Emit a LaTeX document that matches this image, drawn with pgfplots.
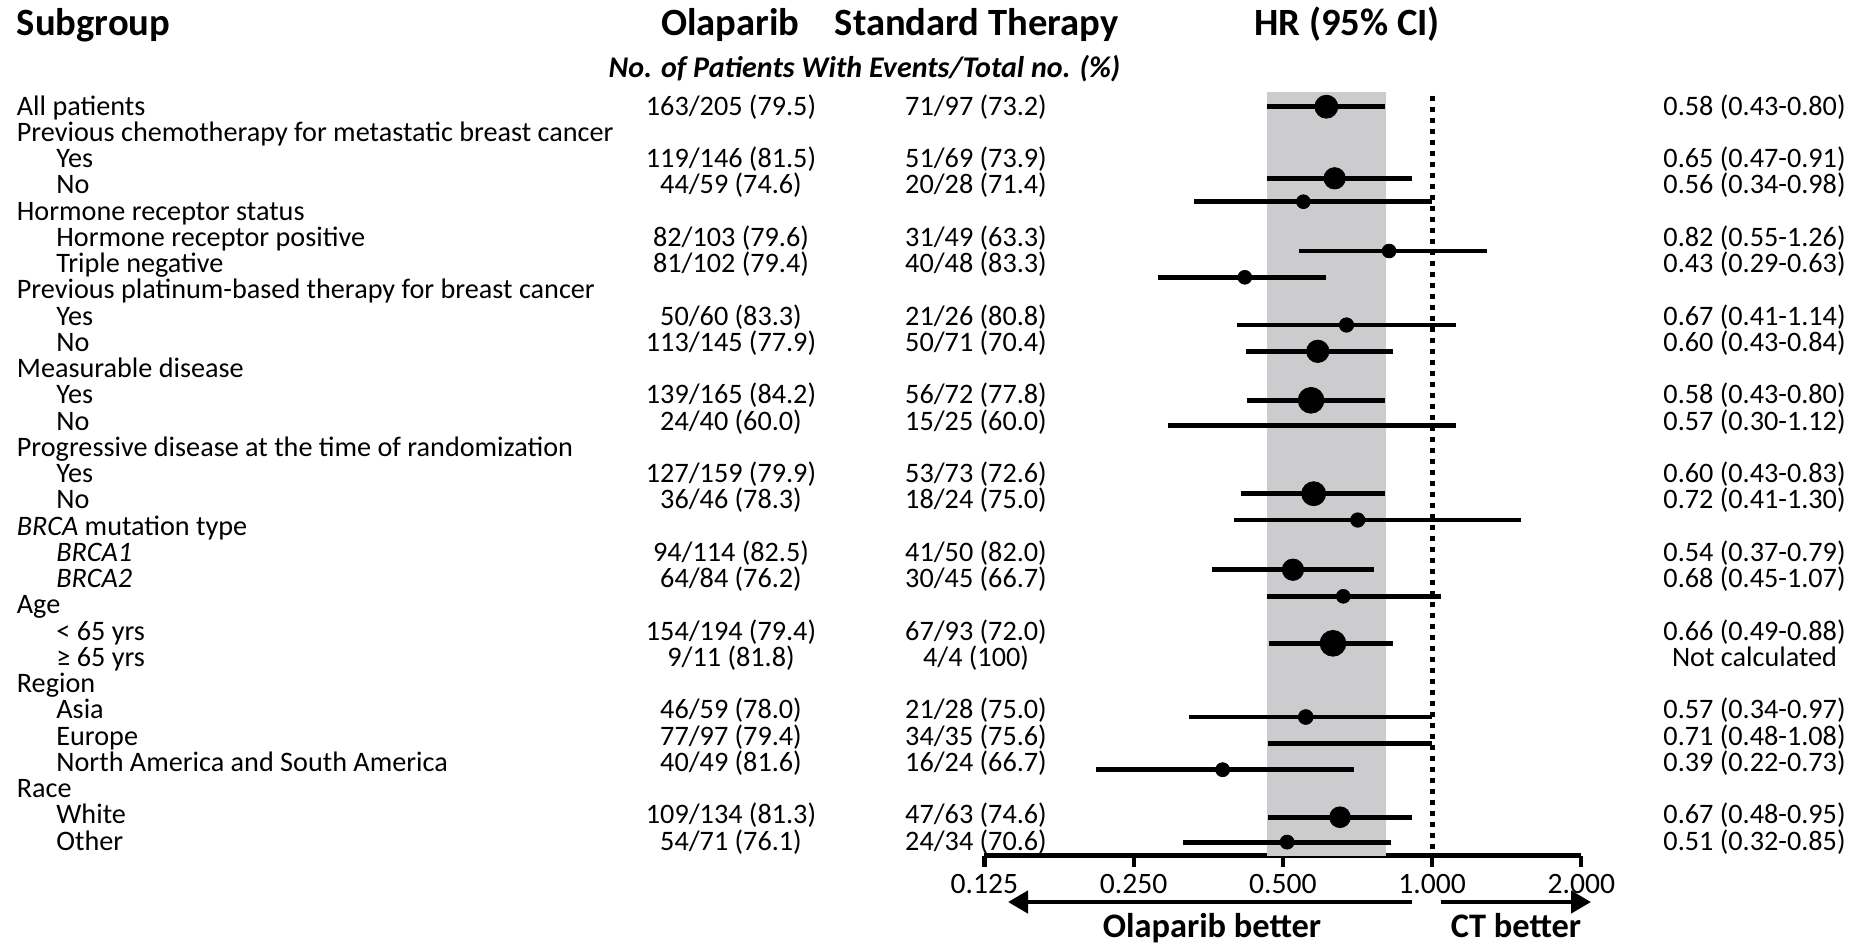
\documentclass[border=0pt]{standalone}
\usepackage{fontspec}
\setmainfont{Carlito}
\usepackage{pgfplots}
\pgfplotsset{compat=1.18}
\usetikzlibrary{arrows.meta}
\definecolor{shade}{RGB}{204,204,206}

\newcommand\bodyf{\fontsize{14.1}{16}\selectfont}
\newcommand\hdrf{\fontsize{19.3}{22}\selectfont\bfseries}
% row: index, x of label, label, olaparib, standard, HR
\newcommand\R[6]{%
  \node[anchor=base west,inner sep=0pt] at (#2,{115+26.25*#1}) {\bodyf #3};
  \node[anchor=base,inner sep=0pt] at (731,{115+26.25*#1}) {\bodyf #4};
  \node[anchor=base,inner sep=0pt] at (976,{115+26.25*#1}) {\bodyf #5};
  \node[anchor=base,inner sep=0pt] at (1754.5,{115+26.25*#1}) {\bodyf #6};
}

\begin{document}
\begin{tikzpicture}
\begin{axis}[
  at={(492.2pt,-427.8pt)}, anchor=south west,
  scale only axis, width=298.45pt, height=427.8pt,
  xmode=log, log basis x=2,
  xmin=0.125, xmax=2, ymin=-855.6, ymax=0,
  axis x line=bottom, axis y line=none,
  x axis line style={-, line width=2.5pt},
  xtick={0.125,0.25,0.5,1,2},
  xticklabels={0.125,0.250,0.500,1.000,2.000},
  minor xtick={},
  tick align=outside, major tick length=5.5pt,
  xtick style={line width=2.1pt, black},
  xticklabel style={font=\fontsize{14.8}{17}\selectfont, inner sep=0pt, anchor=north, yshift=-3.7pt},
  /pgf/number format/assume math mode=true,
  clip=false,
]
% shaded band (overall CI)
\addplot[fill=shade, draw=none] coordinates {(0.464,-92.3) (0.806,-92.3) (0.806,-855.6) (0.464,-855.6)};
% line of no effect
\addplot[black, line width=2.6pt, dash pattern=on 2.6pt off 2.9pt] coordinates {(1,-95.7) (1,-855.6)};
% confidence intervals
\addplot[black, line width=2.4pt] coordinates {(0.464,-106.7) (0.804,-106.7)};
\addplot[black, line width=2.4pt] coordinates {(0.464,-178.3) (0.911,-178.3)};
\addplot[black, line width=2.4pt] coordinates {(0.331,-201.7) (1.0,-201.7)};
\addplot[black, line width=2.4pt] coordinates {(0.540,-251.0) (1.292,-251.0)};
\addplot[black, line width=2.4pt] coordinates {(0.280,-277.3) (0.612,-277.3)};
\addplot[black, line width=2.4pt] coordinates {(0.404,-325.0) (1.119,-325.0)};
\addplot[black, line width=2.4pt] coordinates {(0.422,-351.3) (0.835,-351.3)};
\addplot[black, line width=2.4pt] coordinates {(0.424,-400.3) (0.805,-400.3)};
\addplot[black, line width=2.4pt] coordinates {(0.293,-425.7) (1.119,-425.7)};
\addplot[black, line width=2.4pt] coordinates {(0.412,-493.7) (0.805,-493.7)};
\addplot[black, line width=2.4pt] coordinates {(0.399,-520.0) (1.513,-520.0)};
\addplot[black, line width=2.4pt] coordinates {(0.359,-569.7) (0.764,-569.7)};
\addplot[black, line width=2.4pt] coordinates {(0.464,-596.3) (1.044,-596.3)};
\addplot[black, line width=2.4pt] coordinates {(0.469,-643.3) (0.835,-643.3)};
\addplot[black, line width=2.4pt] coordinates {(0.324,-717.0) (1.0,-717.0)};
\addplot[black, line width=2.4pt] coordinates {(0.466,-743.8) (1.0,-743.8)};
\addplot[black, line width=2.4pt] coordinates {(0.210,-769.7) (0.696,-769.7)};
\addplot[black, line width=2.4pt] coordinates {(0.466,-817.2) (0.912,-817.2)};
\addplot[black, line width=2.4pt] coordinates {(0.314,-842.1) (0.827,-842.1)};
% point estimates (r = marker radius in pt)
\addplot[scatter, only marks, mark=*,
  scatter/use mapped color={draw=none, fill=black},
  visualization depends on={\thisrow{r} \as \rad},
  scatter/@pre marker code/.append style={/tikz/mark size=\rad}]
  table[x=hr, y=y] {
  hr     y       r
  0.612  -106.7  5.75
  0.636  -178.3  5.35
  0.550  -201.7  3.45
  0.819  -251.0  3.45
  0.419  -277.3  3.45
  0.672  -325.0  3.6
  0.588  -351.3  5.6
  0.570  -400.3  6.45
  0.577  -493.7  6.0
  0.708  -520.0  3.6
  0.524  -569.7  5.35
  0.662  -596.3  3.45
  0.631  -643.3  6.45
  0.556  -717.0  3.7
  0.378  -769.7  3.5
  0.652  -817.2  5.2
  0.510  -842.1  3.5
  };
\end{axis}

\begin{scope}[x=0.5pt,y=-0.5pt]
% headers
\node[anchor=base west,inner sep=0pt] at (16.5,35) {\hdrf Subgroup};
\node[anchor=base,inner sep=0pt] at (730.4,35) {\hdrf Olaparib};
\node[anchor=base,inner sep=0pt] at (976.5,35) {\hdrf Standard Therapy};
\node[anchor=base,inner sep=0pt] at (1347,35) {\hdrf HR (95\% CI)};
\node[anchor=base,inner sep=0pt] at (864.5,77.5) {\fontsize{15}{17}\selectfont\bfseries\itshape No. of Patients With Events/Total no. (\%)};
% rows
\R{0}{16.5}{All patients}{163/205 (79.5)}{71/97 (73.2)}{0.58 (0.43-0.80)}
\R{1}{16.5}{Previous chemotherapy for metastatic breast cancer}{}{}{}
\R{2}{56}{Yes}{119/146 (81.5)}{51/69 (73.9)}{0.65 (0.47-0.91)}
\R{3}{56}{No}{44/59 (74.6)}{20/28 (71.4)}{0.56 (0.34-0.98)}
\R{4}{16.5}{Hormone receptor status}{}{}{}
\R{5}{56}{Hormone receptor positive}{82/103 (79.6)}{31/49 (63.3)}{0.82 (0.55-1.26)}
\R{6}{56}{Triple negative}{81/102 (79.4)}{40/48 (83.3)}{0.43 (0.29-0.63)}
\R{7}{16.5}{Previous platinum-based therapy for breast cancer}{}{}{}
\R{8}{56}{Yes}{50/60 (83.3)}{21/26 (80.8)}{0.67 (0.41-1.14)}
\R{9}{56}{No}{113/145 (77.9)}{50/71 (70.4)}{0.60 (0.43-0.84)}
\R{10}{16.5}{Measurable disease}{}{}{}
\R{11}{56}{Yes}{139/165 (84.2)}{56/72 (77.8)}{0.58 (0.43-0.80)}
\R{12}{56}{No}{24/40 (60.0)}{15/25 (60.0)}{0.57 (0.30-1.12)}
\R{13}{16.5}{Progressive disease at the time of randomization}{}{}{}
\R{14}{56}{Yes}{127/159 (79.9)}{53/73 (72.6)}{0.60 (0.43-0.83)}
\R{15}{56}{No}{36/46 (78.3)}{18/24 (75.0)}{0.72 (0.41-1.30)}
\R{16}{16.5}{\textit{BRCA} mutation type}{}{}{}
\R{17}{56}{\textit{BRCA1}}{94/114 (82.5)}{41/50 (82.0)}{0.54 (0.37-0.79)}
\R{18}{56}{\textit{BRCA2}}{64/84 (76.2)}{30/45 (66.7)}{0.68 (0.45-1.07)}
\R{19}{16.5}{Age}{}{}{}
\R{20}{56}{< 65 yrs}{154/194 (79.4)}{67/93 (72.0)}{0.66 (0.49-0.88)}
\R{21}{56}{≥ 65 yrs}{9/11 (81.8)}{4/4 (100)}{Not calculated}
\R{22}{16.5}{Region}{}{}{}
\R{23}{56}{Asia}{46/59 (78.0)}{21/28 (75.0)}{0.57 (0.34-0.97)}
\R{24}{56}{Europe}{77/97 (79.4)}{34/35 (75.6)}{0.71 (0.48-1.08)}
\R{25}{56}{North America and South America}{40/49 (81.6)}{16/24 (66.7)}{0.39 (0.22-0.73)}
\R{26}{16.5}{Race}{}{}{}
\R{27}{56}{White}{109/134 (81.3)}{47/63 (74.6)}{0.67 (0.48-0.95)}
\R{28}{56}{Other}{54/71 (76.1)}{24/34 (70.6)}{0.51 (0.32-0.85)}
% direction arrows
\draw[line width=2.25pt, -{Triangle[length=10pt,width=11pt]}] (1412,902) -- (1008,902);
\draw[line width=2.25pt, -{Triangle[length=10pt,width=11pt]}] (1440.5,902) -- (1591,902);
\node[anchor=base,inner sep=0pt] at (1212,937) {\fontsize{17.2}{20}\selectfont\bfseries Olaparib better};
\node[anchor=base,inner sep=0pt] at (1516,937) {\fontsize{17.2}{20}\selectfont\bfseries CT better};
\end{scope}
\pgfresetboundingbox
\path[use as bounding box] (0pt,0pt) rectangle (926.5pt,-471.5pt);
\end{tikzpicture}
\end{document}
